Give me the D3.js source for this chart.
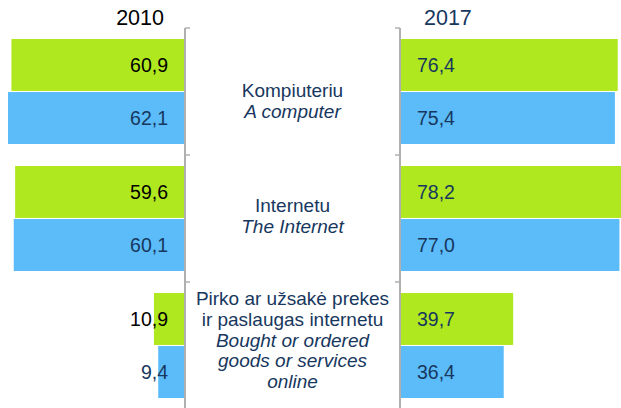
<!DOCTYPE html>
<html>
<head>
<meta charset="utf-8">
<script src="https://cdn.jsdelivr.net/npm/d3@7"></script>
<style>
  body { margin: 0; background: #fff; }
  svg { font-family: "Liberation Sans", Arial, sans-serif; }
</style>
</head>
<body>
<div id="chart"></div>
<script>
// data
var categories = ["computer", "internet", "shopping"];
var series = ["green", "blue"];
var values2010 = [[60.9, 62.1], [59.6, 60.1], [10.9, 9.4]];
var values2017 = [[76.4, 75.4], [78.2, 77.0], [39.7, 36.4]];
var labelLines = [
    [["Kompiuteriu", false], ["A computer", true]],
    [["Internetu", false], ["The Internet", true]],
    [["Pirko ar užsakė prekes", false], ["ir paslaugas internetu", false],
     ["Bought or ordered", true], ["goods or services", true], ["online", true]]
];
var years = ["2010", "2017"];

var svgWidth = 621;
var svgHeight = 408;

var colors = { green: "#b0e81f", blue: "#5bbcf9" };
var navy = "#17375e";

var leftAxisX = 185;
var rightAxisX = 400;

var svg = d3.select("#chart")
    .append("svg")
    .attr("width", svgWidth)
    .attr("height", svgHeight);

// scales
var xLeft = d3.scaleLinear().domain([0, 80]).range([leftAxisX, leftAxisX - 228]);
var xRight = d3.scaleLinear().domain([0, 80]).range([rightAxisX, rightAxisX + 228]);

var y = d3.scaleBand()
    .domain(categories)
    .range([28, 409]);

var ySub = d3.scaleBand()
    .domain(series)
    .range([11, 116])
    .paddingInner(0.02);

// bars
var groups = svg.append("g").selectAll("g")
    .data(categories)
    .enter()
    .append("g")
    .attr("transform", d => `translate(0, ${y(d)})`);

groups.each(function (cat, i) {
    var g = d3.select(this);
    series.forEach(function (s, j) {
        var v1 = values2010[i][j];
        var v2 = values2017[i][j];
        g.append("rect")
            .attr("x", xLeft(v1))
            .attr("y", ySub(s))
            .attr("width", xLeft(0) - xLeft(v1))
            .attr("height", ySub.bandwidth())
            .attr("fill", colors[s]);
        g.append("rect")
            .attr("x", xRight(0))
            .attr("y", ySub(s))
            .attr("width", xRight(v2) - xRight(0))
            .attr("height", ySub.bandwidth())
            .attr("fill", colors[s]);

        g.append("text")
            .attr("x", leftAxisX - 17)
            .attr("y", ySub(s) + ySub.bandwidth() / 2)
            .attr("dy", "0.35em")
            .attr("text-anchor", "end")
            .style("font-size", "19.5px")
            .attr("fill", s === "green" ? "#000" : navy)
            .text(d3.format(".1f")(v1).replace(".", ","));

        g.append("text")
            .attr("x", rightAxisX + 17)
            .attr("y", ySub(s) + ySub.bandwidth() / 2)
            .attr("dy", "0.35em")
            .style("font-size", "19.5px")
            .attr("fill", navy)
            .text(d3.format(".1f")(v2).replace(".", ","));
    });
});

// axis lines with ticks at category borders
var axisColor = "#b0b0b0";
[[leftAxisX, 5], [rightAxisX, -5]].forEach(function (a) {
    svg.append("line")
        .attr("x1", a[0]).attr("x2", a[0])
        .attr("y1", 28).attr("y2", svgHeight)
        .attr("stroke", axisColor)
        .attr("stroke-width", 2);
    categories.forEach(function (c) {
        svg.append("line")
            .attr("x1", a[0]).attr("x2", a[0] + a[1])
            .attr("y1", y(c)).attr("y2", y(c))
            .attr("stroke", axisColor)
            .attr("stroke-width", 1.5);
    });
});

// center labels
var firstBaseline = [97, 212, 305];
var centerX = (leftAxisX + rightAxisX) / 2;
labelLines.forEach(function (lines, i) {
    var t = svg.append("text")
        .attr("text-anchor", "middle")
        .style("font-size", "19px")
        .attr("fill", navy);
    lines.forEach(function (ln, k) {
        t.append("tspan")
            .attr("x", centerX)
            .attr("y", firstBaseline[i] + k * 20.8)
            .style("font-style", ln[1] ? "italic" : "normal")
            .text(ln[0]);
    });
});

// year titles
svg.append("text")
    .attr("x", 164)
    .attr("y", 25)
    .attr("text-anchor", "end")
    .style("font-size", "21.5px")
    .attr("fill", "#000")
    .text(years[0]);

svg.append("text")
    .attr("x", 424)
    .attr("y", 25)
    .style("font-size", "21.5px")
    .attr("fill", navy)
    .text(years[1]);
</script>
</body>
</html>
